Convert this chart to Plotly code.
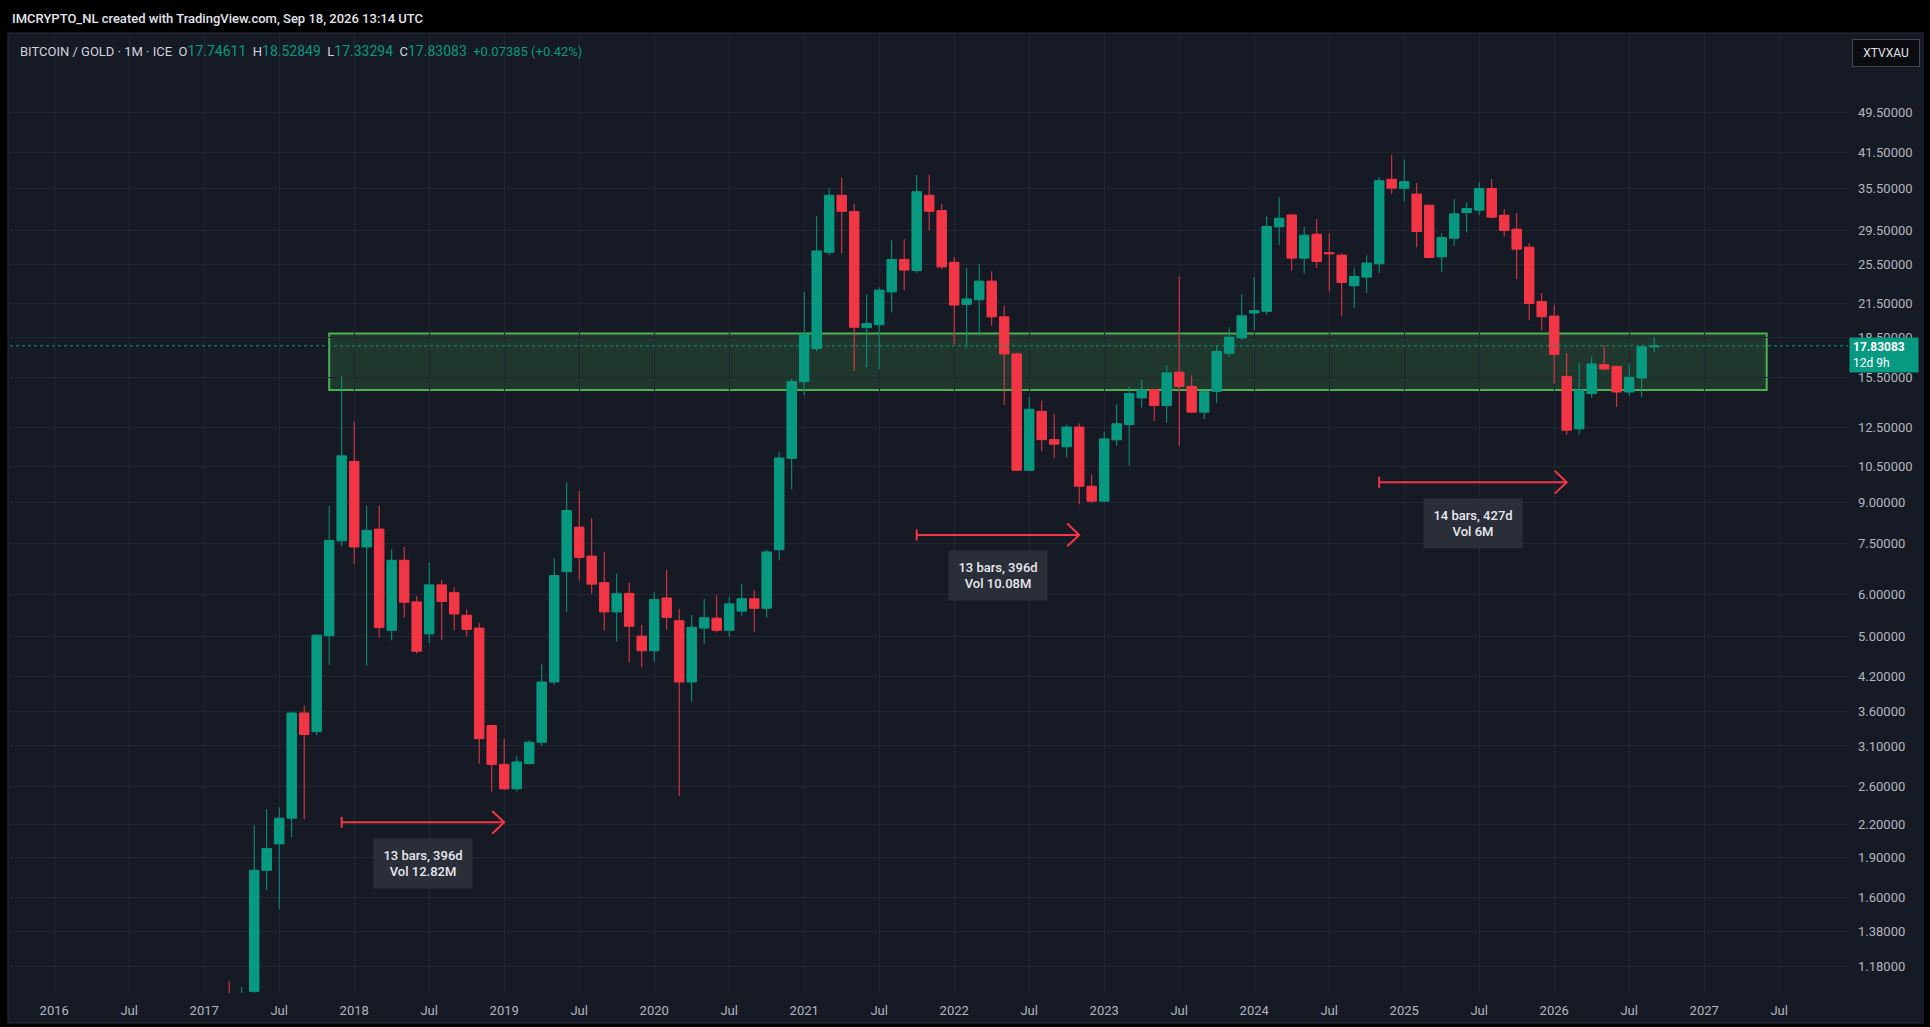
import numpy as np
import plotly.graph_objects as go

# ---------------- data ----------------
months = [
    "2017-03", "2017-04", "2017-05", "2017-06", "2017-07", "2017-08", "2017-09", "2017-10", "2017-11", "2017-12",
    "2018-01", "2018-02", "2018-03", "2018-04", "2018-05", "2018-06", "2018-07", "2018-08", "2018-09", "2018-10", "2018-11", "2018-12",
    "2019-01", "2019-02", "2019-03", "2019-04", "2019-05", "2019-06", "2019-07", "2019-08", "2019-09", "2019-10", "2019-11", "2019-12",
    "2020-01", "2020-02", "2020-03", "2020-04", "2020-05", "2020-06", "2020-07", "2020-08", "2020-09", "2020-10", "2020-11", "2020-12",
    "2021-01", "2021-02", "2021-03", "2021-04", "2021-05", "2021-06", "2021-07", "2021-08", "2021-09", "2021-10", "2021-11", "2021-12",
    "2022-01", "2022-02", "2022-03", "2022-04", "2022-05", "2022-06", "2022-07", "2022-08", "2022-09", "2022-10", "2022-11", "2022-12",
    "2023-01", "2023-02", "2023-03", "2023-04", "2023-05", "2023-06", "2023-07", "2023-08", "2023-09", "2023-10", "2023-11", "2023-12",
    "2024-01", "2024-02", "2024-03", "2024-04", "2024-05", "2024-06", "2024-07", "2024-08", "2024-09", "2024-10", "2024-11", "2024-12",
    "2025-01", "2025-02", "2025-03", "2025-04", "2025-05", "2025-06", "2025-07", "2025-08", "2025-09", "2025-10", "2025-11", "2025-12",
    "2026-01", "2026-02", "2026-03", "2026-04", "2026-05", "2026-06", "2026-07", "2026-08", "2026-09",
]

open_p = [
    1.00, 0.88, 1.06, 1.80, 2.02, 2.26, 3.58, 3.30, 5.02, 7.60,
    10.75, 7.40, 8.00, 5.14, 6.98, 5.82, 5.06, 6.27, 6.06, 5.49, 5.19, 3.39,
    2.86, 2.57, 2.87, 3.15, 4.10, 6.64, 8.07, 7.11, 6.33, 5.57, 6.04, 5.01,
    4.70, 5.92, 5.36, 4.10, 5.19, 5.42, 5.14, 5.59, 5.90, 5.66, 7.31, 10.90,
    15.24, 17.62, 26.84, 34.44, 32.06, 19.31, 19.56, 22.57, 26.01, 24.79, 34.44, 32.21,
    25.69, 21.37, 21.81, 23.66, 20.24, 17.21, 10.35, 13.39, 11.83, 11.47, 12.50, 9.65,
    9.04, 11.82, 12.64, 14.20, 14.72, 13.73, 15.89, 14.93, 13.34, 14.61, 17.26, 18.46,
    20.58, 20.73, 30.00, 31.60, 26.16, 29.05, 26.80, 26.51, 23.19, 24.08, 25.52, 36.93,
    35.51, 34.62, 32.98, 26.31, 28.55, 31.94, 32.27, 35.46, 31.57, 29.69, 27.45, 21.65,
    20.31, 15.60, 12.40, 14.47, 16.42, 16.30, 14.57, 15.49, 17.74611,
]
high_p = [
    1.11, 1.08, 2.19, 2.35, 2.37, 3.60, 3.70, 5.05, 8.86, 15.60,
    12.80, 8.86, 8.86, 7.33, 7.40, 5.97, 6.91, 6.40, 6.20, 5.63, 5.31, 3.39,
    3.20, 2.97, 3.18, 4.43, 7.04, 9.81, 9.44, 8.39, 7.25, 6.58, 6.33, 5.26,
    6.07, 6.69, 5.64, 5.50, 5.90, 5.98, 5.95, 6.29, 6.13, 7.31, 11.19, 15.45,
    22.57, 31.47, 35.53, 37.18, 33.13, 22.33, 23.03, 28.30, 28.43, 37.64, 37.64, 33.13,
    26.30, 25.10, 25.49, 24.71, 21.24, 17.30, 14.25, 14.03, 13.24, 12.64, 12.70, 10.16,
    12.25, 13.81, 14.90, 15.36, 14.72, 16.40, 24.14, 15.67, 14.59, 17.81, 19.34, 22.33,
    24.10, 31.40, 34.16, 31.65, 30.00, 31.02, 29.18, 26.74, 25.04, 26.47, 37.25, 41.07,
    40.25, 36.34, 32.98, 29.18, 33.90, 33.36, 36.45, 36.93, 32.40, 31.85, 27.93, 22.45,
    21.34, 17.28, 16.54, 17.03, 17.87, 16.30, 16.49, 17.87, 18.52849,
]
low_p = [
    0.85, 0.86, 1.05, 1.65, 1.52, 2.08, 2.25, 3.25, 4.42, 7.42,
    6.87, 4.40, 4.98, 4.92, 5.43, 4.64, 4.86, 4.93, 5.14, 5.01, 2.87, 2.54,
    2.56, 2.54, 2.86, 3.10, 4.05, 5.57, 6.39, 6.03, 5.13, 4.89, 4.47, 4.37,
    4.48, 5.15, 2.49, 3.76, 4.84, 5.09, 5.00, 5.48, 5.10, 5.43, 6.98, 9.52,
    14.36, 17.40, 26.50, 26.71, 15.97, 16.22, 16.09, 20.65, 22.75, 24.50, 29.56, 24.90,
    17.95, 17.67, 18.66, 19.46, 13.77, 10.32, 10.30, 11.24, 10.90, 10.95, 8.92, 8.97,
    9.00, 11.50, 10.56, 13.62, 12.83, 12.74, 11.51, 13.34, 12.94, 13.88, 17.00, 18.30,
    19.08, 20.43, 27.75, 24.79, 24.43, 25.04, 22.62, 20.34, 21.03, 22.46, 24.50, 34.65,
    33.51, 27.45, 26.16, 24.58, 27.61, 29.26, 31.61, 31.11, 28.76, 23.87, 19.93, 19.08,
    15.11, 12.09, 12.09, 14.20, 16.02, 13.65, 14.34, 14.26, 17.33294,
]
close_p = [
    0.88, 1.05, 1.80, 1.98, 2.26, 3.58, 3.26, 5.03, 7.61, 11.02,
    7.40, 7.96, 5.20, 6.98, 5.81, 4.69, 6.27, 5.83, 5.52, 5.16, 3.20, 2.86,
    2.57, 2.89, 3.15, 4.10, 6.53, 8.68, 7.07, 6.29, 5.57, 6.03, 5.23, 4.70,
    5.88, 5.44, 4.10, 5.21, 5.43, 5.14, 5.77, 5.90, 5.66, 7.24, 10.92, 15.25,
    18.75, 27.00, 34.44, 32.11, 19.34, 19.65, 22.75, 26.01, 24.83, 34.98, 32.11, 25.18,
    21.31, 21.88, 23.66, 20.24, 17.21, 10.35, 13.51, 11.83, 11.60, 12.50, 9.65, 9.04,
    11.87, 12.68, 14.47, 14.70, 13.73, 15.84, 14.93, 13.34, 14.59, 17.40, 18.52, 20.33,
    20.79, 30.05, 31.15, 26.16, 28.92, 25.78, 26.66, 23.52, 24.15, 25.60, 36.71, 35.52,
    36.55, 29.39, 26.24, 28.63, 31.75, 32.50, 35.46, 31.29, 29.52, 27.21, 21.46, 20.25,
    17.18, 12.33, 14.68, 16.47, 16.11, 14.57, 15.54, 17.75698, 17.83083,
]

y_tick_values = [1.18, 1.38, 1.6, 1.9, 2.2, 2.6, 3.1, 3.6, 4.2, 5.0, 6.0, 7.5, 9.0,
                 10.5, 12.5, 15.5, 18.5, 21.5, 25.5, 29.5, 35.5, 41.5, 49.5]
x_tick_years = [2016, 2017, 2018, 2019, 2020, 2021, 2022, 2023, 2024, 2025, 2026, 2027]

zone_low, zone_high = 14.70, 18.82
zone_start, zone_end = "2017-11", "2027-06"

measure_start = ["2017-12", "2021-10", "2024-11"]
measure_end = ["2019-01", "2022-11", "2026-02"]
measure_level = [2.22, 7.80, 9.82]
measure_bars = [13, 13, 14]
measure_days = [396, 396, 427]
measure_vol = ["12.82M", "10.08M", "6M"]

symbol_title = "BITCOIN / GOLD · 1M · ICE"
ticker = "XTVXAU"
countdown = "12d 9h"
header_text = "IMCRYPTO_NL created with TradingView.com, Sep 18, 2026 13:14 UTC"

# ---------------- styling ----------------
W, H = 1930, 1027
PL, PR, PT, PB = 10, 1848, 34, 993
GREEN = "#089981"
RED = "#F23645"
BG = "#161A25"
GRID = "#232733"
AXIS_TXT = "#B2B5BE"
FONT = "Roboto, Arial, sans-serif"
X_RANGE = [-3.536, 143.504]
Y_RANGE = [0.0222, 1.8433]


def midx(s):
    y, m = s.split("-")
    return (int(y) - 2016) * 12 + int(m) - 1


def px2x(px):
    return (px - PL) / (PR - PL)


def py2y(py):
    return (PB - py) / (PB - PT)


x = np.array([midx(m) for m in months], dtype=float)
o = np.array(open_p)
h = np.array(high_p)
lo = np.array(low_p)
c = np.array(close_p)
up = c >= o

fig = go.Figure()

# wicks
for mask, col in ((up, GREEN), (~up, RED)):
    wx, wy = [], []
    for xi, hi, li in zip(x[mask], h[mask], lo[mask]):
        wx += [xi, xi, None]
        wy += [li, hi, None]
    fig.add_trace(go.Scatter(x=wx, y=wy, mode="lines", line=dict(color=col, width=1),
                             hoverinfo="skip"))

# bodies
body_lo = np.minimum(o, c)
body_hi = np.maximum(o, c)
for mask, col in ((up, GREEN), (~up, RED)):
    fig.add_trace(go.Bar(x=x[mask], y=(body_hi - body_lo)[mask], base=body_lo[mask],
                         width=0.76, marker=dict(color=col, line=dict(color=col, width=1)),
                         hoverinfo="skip"))

# last price dotted line
fig.add_trace(go.Scatter(x=X_RANGE, y=[c[-1], c[-1]], mode="lines",
                         line=dict(color=GREEN, width=1, dash="dot"), hoverinfo="skip"))

# measurement arrows
HEAD_BACK = 0.96
HEAD_F = np.exp(11.4 / 228.7)
TICK_F = np.exp(5.5 / 228.7)
ax_, ay_ = [], []
for s, e, lv in zip(measure_start, measure_end, measure_level):
    xs, xe = midx(s), midx(e)
    ax_ += [xs, xe, None, xe - HEAD_BACK, xe, xe - HEAD_BACK, None, xs, xs, None]
    ay_ += [lv, lv, None, lv * HEAD_F, lv, lv / HEAD_F, None, lv * TICK_F, lv / TICK_F, None]
fig.add_trace(go.Scatter(x=ax_, y=ay_, mode="lines", line=dict(color=RED, width=2),
                         hoverinfo="skip"))

annotations = []
for s, e, lv, nb, nd, vol in zip(measure_start, measure_end, measure_level,
                                  measure_bars, measure_days, measure_vol):
    annotations.append(dict(
        x=(midx(s) + midx(e)) / 2, y=np.log10(lv), xref="x", yref="y",
        text=f"{nb} bars, {nd}d<br>Vol {vol}", showarrow=False, yshift=-41,
        font=dict(family=FONT, size=13, color="#E6E8EE", weight=500), bgcolor="#2A2E39",
        width=86, height=37, borderpad=6, align="center"))

# price label on axis
annotations.append(dict(
    x=1, xref="paper", xanchor="left", xshift=1, y=np.log10(c[-1]), yref="y",
    yanchor="middle", yshift=-9,
    text=f"<b>{c[-1]:.5f}</b><br>{countdown}", showarrow=False, align="left",
    font=dict(family=FONT, size=12, color="#FFFFFF"), bgcolor=GREEN,
    width=62, height=28, borderpad=3))

# header / legend
chg = c[-1] - c[-2]
pct = chg / c[-2] * 100
gs = f'<span style="color:{GREEN};font-size:14px">'
gs2 = f'<span style="color:{GREEN}">'
sp = "\u00a0\u00a0"
legend_txt = (f'<span style="color:#D1D4DC">{symbol_title}</span>{sp}'
              f'O{gs}{o[-1]:.5f}</span>{sp}H{gs}{h[-1]:.5f}</span>{sp}'
              f'L{gs}{lo[-1]:.5f}</span>{sp}C{gs}{c[-1]:.5f}</span>{sp}'
              f'{gs2}{chg:+.5f} ({pct:+.2f}%)</span>')
annotations.append(dict(x=px2x(18), y=py2y(51), xref="paper", yref="paper", xanchor="left",
                        yanchor="middle", text=legend_txt, showarrow=False,
                        font=dict(family=FONT, size=13, color="#D1D4DC")))
annotations.append(dict(x=px2x(10), y=py2y(19), xref="paper", yref="paper", xanchor="left",
                        yanchor="middle", text=header_text, showarrow=False,
                        font=dict(family=FONT, size=13, color="#E0E3EB", weight=500)))
annotations.append(dict(x=px2x(1886), y=py2y(53), xref="paper", yref="paper", xanchor="center",
                        yanchor="middle", text=ticker, showarrow=False,
                        font=dict(family=FONT, size=12, color="#E0E3EB"),
                        bgcolor="#0B0C10", bordercolor="#434651", borderwidth=1,
                        width=58, height=18, borderpad=4))

shapes = [
    dict(type="rect", xref="paper", yref="paper", x0=px2x(8), x1=px2x(1923),
         y0=py2y(1023), y1=py2y(33), fillcolor=BG, line=dict(color="#2A2E39", width=1),
         layer="below"),
    # support / resistance zone (data coordinates), drawn beneath the candles
    dict(type="rect", xref="x", yref="y", x0=midx(zone_start), x1=midx(zone_end),
         y0=zone_low, y1=zone_high, fillcolor="rgba(76,175,80,0.20)",
         line=dict(color="#4CAF50", width=2), layer="below"),
]

x_tickvals, x_ticktext = [], []
for yr in x_tick_years:
    x_tickvals += [midx(f"{yr}-01"), midx(f"{yr}-07")]
    x_ticktext += [str(yr), "Jul"]

fig.update_layout(
    width=W, height=H,
    margin=dict(l=PL, r=W - PR, t=PT, b=H - PB, autoexpand=False),
    paper_bgcolor="#000000", plot_bgcolor=BG,
    showlegend=False, barmode="overlay", hovermode=False, dragmode=False,
    font=dict(family=FONT, color=AXIS_TXT, size=13),
    xaxis=dict(type="linear", range=X_RANGE, tickvals=x_tickvals, ticktext=x_ticktext,
               showgrid=True, gridcolor=GRID, gridwidth=1, zeroline=False, showline=False,
               ticks="", ticklabelstandoff=8, tickfont=dict(size=13, color=AXIS_TXT),
               fixedrange=True),
    yaxis=dict(type="log", range=Y_RANGE, side="right", tickvals=y_tick_values,
               ticktext=[f"{v:.5f}" for v in y_tick_values], showgrid=True,
               gridcolor=GRID, gridwidth=1, zeroline=False, showline=False, ticks="",
               ticklabelstandoff=9, tickfont=dict(size=13, color=AXIS_TXT), fixedrange=True),
    annotations=annotations,
    shapes=shapes,
)

fig.write_html("out.html", config={"displayModeBar": False},
               post_script="document.body.style.margin='0px';document.body.style.overflow='hidden';")
